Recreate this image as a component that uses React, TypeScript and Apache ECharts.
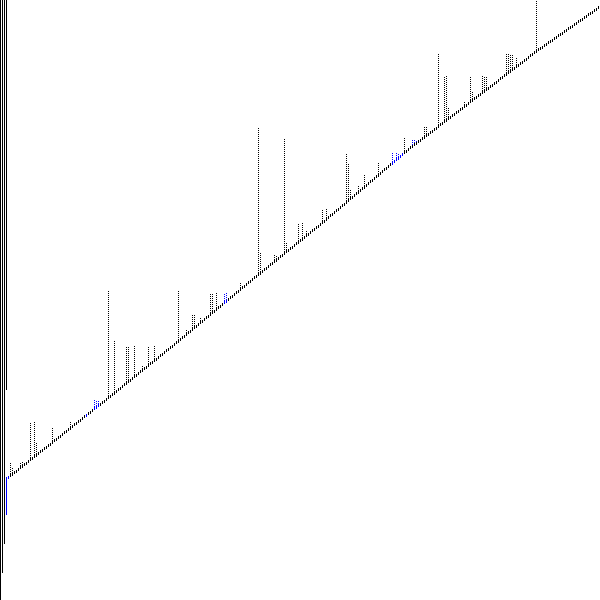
import React, { useEffect, useRef } from "react";
import * as echarts from "echarts";

// Level (top of the short dash) for each of the 300 columns; first four columns are drawn as stripes.
const levels: (number | null)[] = [
  null, null, null, null,
  124, 126, 127, 129, 130, 132, 134, 135, 137, 138, 140, 142, 143, 145, 146, 148, 150, 151, 153, 154, 156, 157, 159, 161, 162, 164,
  165, 167, 169, 170, 172, 173, 175, 177, 178, 180, 181, 183, 185, 186, 188, 189, 191, 193, 194, 196, 197, 199, 200, 202,
  204, 205, 207, 208, 210, 212, 213, 215, 217, 218, 220, 221, 223, 225, 226, 228, 230, 231, 233, 234, 236, 238, 239, 241, 242, 244,
  246, 247, 249, 251, 252,
  254, 255, 257, 259, 260, 262, 264, 265, 267, 269, 270, 272, 274, 275, 277, 279, 280, 282, 284, 285, 287, 289, 290, 292, 294, 295,
  297, 299, 300, 302, 304, 305, 307, 309, 310, 312, 314, 315, 317, 319, 320, 322,
  324, 325, 327, 328, 330, 332, 333, 335, 337, 338, 340, 341, 343, 345, 346, 348, 350, 351, 353, 354, 356, 358, 359, 361, 362, 364,
  366, 367, 369, 371, 372, 374, 375, 377,
  379, 380, 382, 384, 386, 387, 389, 391, 392, 394, 396, 397, 399, 401, 403, 404, 406, 408, 409, 411, 413, 414, 416, 418, 420, 421,
  423, 425, 426, 428, 430, 432, 433, 435, 437, 438, 440, 442, 443, 445, 447, 449, 450, 452,
  454, 455, 457, 458, 460, 461, 463, 464, 466, 467, 469, 470, 472, 473, 475, 477, 478, 480, 481, 483, 484, 486, 487, 489, 490, 492,
  493, 495, 496, 498, 500, 501, 503, 504, 506, 507, 509, 510, 512, 513, 515, 516, 518, 519, 521, 523, 524, 526, 527, 529, 530, 532,
  533, 535, 536, 538, 539, 541, 542, 544, 546, 547, 549, 550,
  552, 553, 554, 556, 557, 559, 560, 561, 563, 564, 566, 567, 568, 570, 571, 573, 574, 575, 577, 578, 580, 581, 582, 584, 585, 587,
  588, 589, 591, 592, 594,
];

// Black dotted spikes: [column, high]
const blackSpikes: [number, number][] = [
  [5, 138], [6, 133], [10, 138], [11, 138], [15, 178], [17, 178], [18, 157], [26, 172], [35, 178],
  [54, 310], [57, 259], [63, 254], [64, 254], [67, 254], [71, 235], [74, 254], [77, 254],
  [89, 310], [93, 271], [96, 286], [97, 286], [100, 282], [105, 307], [106, 307], [108, 307], [120, 318],
  [129, 473], [130, 347], [137, 345], [138, 345], [142, 462], [143, 357], [149, 377], [151, 377], [153, 370],
  [161, 391], [163, 391], [173, 447], [174, 437], [175, 410], [179, 414], [182, 426], [189, 437],
  [202, 463], [212, 473], [213, 473], [219, 546], [222, 524], [223, 524], [224, 493], [232, 498],
  [235, 524], [236, 508], [241, 524], [242, 524], [243, 524],
  [253, 546], [254, 546], [255, 546], [256, 546], [258, 542], [268, 600],
];

// Blue dotted spikes: [column, high]
const blueSpikes: [number, number][] = [
  [47, 200], [48, 200], [49, 200], [112, 307], [113, 307],
  [196, 447], [198, 447], [199, 447], [206, 460], [207, 460], [208, 460],
];

// Columns whose dash is blue
const blueDashes: number[] = [4, 43, 47, 48, 49, 112, 113, 196, 197, 198, 199, 200, 201];

// Solid stripes at the left edge: [column, low, high]
const blackStripes: [number, number, number][] = [
  [0, 0, 600], [1, 27, 600], [2, 56, 600], [3, 210, 600],
];
const blueStripes: [number, number, number][] = [[3, 85, 123]];

const DASH = 3;
const BLACK = "#000000";
const BLUE = "#0000ff";

export default function App() {
  const ref = useRef<HTMLDivElement>(null);
  useEffect(() => {
    if (!ref.current) return;
    const chart = echarts.init(ref.current, undefined, { renderer: "svg" });
    const data: number[][] = [];
    // kinds: 0 black dash, 1 blue dash, 2 black dotted, 3 blue dotted, 4 black stripe, 5 blue stripe
    blackSpikes.forEach(([i, h]) => data.push([i, levels[i] as number, h, 2]));
    blueSpikes.forEach(([i, h]) => data.push([i, levels[i] as number, h, 3]));
    blackStripes.forEach(([i, lo, hi]) => data.push([i, lo, hi, 4]));
    blueStripes.forEach(([i, lo, hi]) => data.push([i, lo, hi, 5]));
    levels.forEach((lv, i) => {
      if (lv == null) return;
      data.push([i, lv - DASH, lv, blueDashes.includes(i) ? 1 : 0]);
    });
    chart.setOption({
      animation: false,
      backgroundColor: "#ffffff",
      grid: { left: 0, right: 0, top: 0, bottom: 0, containLabel: false },
      xAxis: { type: "value", min: -0.25, max: 299.75, show: false },
      yAxis: { type: "value", min: 0, max: 600, show: false },
      series: [
        {
          type: "custom",
          silent: true,
          clip: true,
          encode: { x: 0, y: [1, 2] },
          data,
          renderItem: (params: any, api: any) => {
            const i = api.value(0);
            const lo = api.value(1);
            const hi = api.value(2);
            const kind = api.value(3);
            const a = api.coord([i, lo]);
            const b = api.coord([i, hi]);
            const color = kind === 1 || kind === 3 || kind === 5 ? BLUE : BLACK;
            const x0 = Math.round(a[0] - 0.5);
            const yTop = Math.round(b[1]);
            const yBot = Math.round(a[1]);
            if (kind === 2 || kind === 3) {
              return {
                type: "line",
                shape: { x1: x0 + 0.5, y1: yBot, x2: x0 + 0.5, y2: yTop },
                style: { stroke: color, lineWidth: 1, lineDash: [1, 1] },
              };
            }
            return {
              type: "rect",
              shape: { x: x0, y: yTop, width: 1, height: Math.max(1, yBot - yTop) },
              style: { fill: color },
            };
          },
        },
      ],
    });
    return () => chart.dispose();
  }, []);
  return (
    <div
      ref={ref}
      style={{ position: "absolute", left: 0, top: 0, width: 600, height: 600 }}
    />
  );
}
